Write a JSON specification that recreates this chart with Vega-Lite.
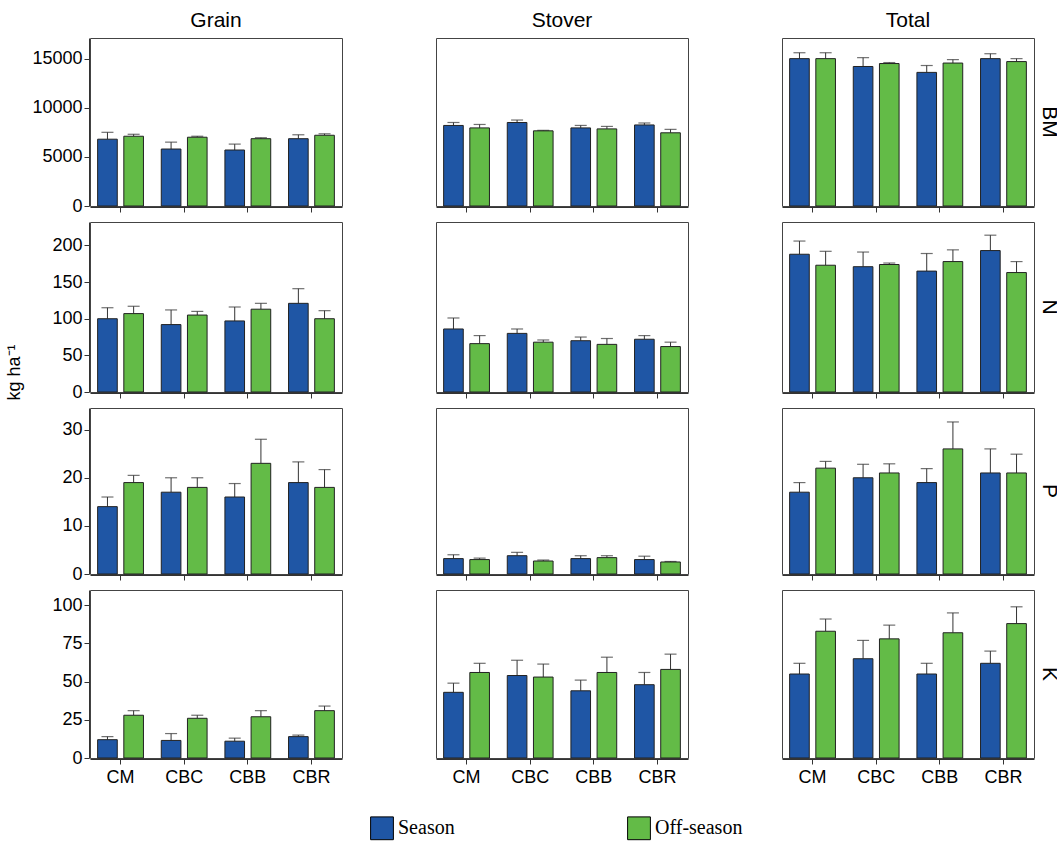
{
  "$schema": "https://vega.github.io/schema/vega-lite/v6.json",
  "background": "white",
  "padding": {"top": 10, "left": 5, "right": 2, "bottom": 5},
  "config": {
    "font": "Liberation Sans",
    "view": {"stroke": "#444"},
    "axis": {"labelFontSize": 18, "labelColor": "black", "tickColor": "#333", "domainColor": "#333", "grid": false, "titleFontSize": 18, "titleFontWeight": "normal", "titleColor": "black"},
    "header": {"labelFontSize": 21, "labelColor": "black"},
    "legend": {"labelFont": "Liberation Serif", "labelFontSize": 20, "symbolType": "square", "symbolSize": 520, "symbolStrokeColor": "black", "symbolStrokeWidth": 1, "orient": "none", "legendX": 280, "legendY": 778, "direction": "horizontal", "columnPadding": 170, "title": null}
  },
  "data": {"values": [
    {"m":"BM","part":"Grain","trt":"CM","s":"Season","v":6800,"u":7500},
    {"m":"BM","part":"Grain","trt":"CM","s":"Off-season","v":7100,"u":7300},
    {"m":"BM","part":"Grain","trt":"CBC","s":"Season","v":5800,"u":6500},
    {"m":"BM","part":"Grain","trt":"CBC","s":"Off-season","v":7000,"u":7100},
    {"m":"BM","part":"Grain","trt":"CBB","s":"Season","v":5700,"u":6300},
    {"m":"BM","part":"Grain","trt":"CBB","s":"Off-season","v":6850,"u":6950},
    {"m":"BM","part":"Grain","trt":"CBR","s":"Season","v":6850,"u":7250},
    {"m":"BM","part":"Grain","trt":"CBR","s":"Off-season","v":7200,"u":7350},
    {"m":"BM","part":"Stover","trt":"CM","s":"Season","v":8200,"u":8500},
    {"m":"BM","part":"Stover","trt":"CM","s":"Off-season","v":7950,"u":8300},
    {"m":"BM","part":"Stover","trt":"CBC","s":"Season","v":8500,"u":8750},
    {"m":"BM","part":"Stover","trt":"CBC","s":"Off-season","v":7650,"u":7700},
    {"m":"BM","part":"Stover","trt":"CBB","s":"Season","v":7950,"u":8200},
    {"m":"BM","part":"Stover","trt":"CBB","s":"Off-season","v":7850,"u":8100},
    {"m":"BM","part":"Stover","trt":"CBR","s":"Season","v":8250,"u":8450},
    {"m":"BM","part":"Stover","trt":"CBR","s":"Off-season","v":7450,"u":7800},
    {"m":"BM","part":"Total","trt":"CM","s":"Season","v":15000,"u":15600},
    {"m":"BM","part":"Total","trt":"CM","s":"Off-season","v":15000,"u":15600},
    {"m":"BM","part":"Total","trt":"CBC","s":"Season","v":14200,"u":15100},
    {"m":"BM","part":"Total","trt":"CBC","s":"Off-season","v":14500,"u":14600},
    {"m":"BM","part":"Total","trt":"CBB","s":"Season","v":13600,"u":14300},
    {"m":"BM","part":"Total","trt":"CBB","s":"Off-season","v":14550,"u":14900},
    {"m":"BM","part":"Total","trt":"CBR","s":"Season","v":15000,"u":15500},
    {"m":"BM","part":"Total","trt":"CBR","s":"Off-season","v":14700,"u":15000},
    {"m":"N","part":"Grain","trt":"CM","s":"Season","v":100,"u":115},
    {"m":"N","part":"Grain","trt":"CM","s":"Off-season","v":107,"u":117},
    {"m":"N","part":"Grain","trt":"CBC","s":"Season","v":92,"u":112},
    {"m":"N","part":"Grain","trt":"CBC","s":"Off-season","v":105,"u":110},
    {"m":"N","part":"Grain","trt":"CBB","s":"Season","v":97,"u":116},
    {"m":"N","part":"Grain","trt":"CBB","s":"Off-season","v":113,"u":121},
    {"m":"N","part":"Grain","trt":"CBR","s":"Season","v":121,"u":141},
    {"m":"N","part":"Grain","trt":"CBR","s":"Off-season","v":100,"u":111},
    {"m":"N","part":"Stover","trt":"CM","s":"Season","v":86,"u":101},
    {"m":"N","part":"Stover","trt":"CM","s":"Off-season","v":66,"u":77},
    {"m":"N","part":"Stover","trt":"CBC","s":"Season","v":80,"u":86},
    {"m":"N","part":"Stover","trt":"CBC","s":"Off-season","v":68,"u":71},
    {"m":"N","part":"Stover","trt":"CBB","s":"Season","v":70,"u":75},
    {"m":"N","part":"Stover","trt":"CBB","s":"Off-season","v":65,"u":73},
    {"m":"N","part":"Stover","trt":"CBR","s":"Season","v":72,"u":77},
    {"m":"N","part":"Stover","trt":"CBR","s":"Off-season","v":62,"u":68},
    {"m":"N","part":"Total","trt":"CM","s":"Season","v":188,"u":206},
    {"m":"N","part":"Total","trt":"CM","s":"Off-season","v":173,"u":192},
    {"m":"N","part":"Total","trt":"CBC","s":"Season","v":171,"u":191},
    {"m":"N","part":"Total","trt":"CBC","s":"Off-season","v":174,"u":176},
    {"m":"N","part":"Total","trt":"CBB","s":"Season","v":165,"u":189},
    {"m":"N","part":"Total","trt":"CBB","s":"Off-season","v":178,"u":194},
    {"m":"N","part":"Total","trt":"CBR","s":"Season","v":193,"u":214},
    {"m":"N","part":"Total","trt":"CBR","s":"Off-season","v":163,"u":178},
    {"m":"P","part":"Grain","trt":"CM","s":"Season","v":14,"u":16},
    {"m":"P","part":"Grain","trt":"CM","s":"Off-season","v":19,"u":20.5},
    {"m":"P","part":"Grain","trt":"CBC","s":"Season","v":17,"u":20},
    {"m":"P","part":"Grain","trt":"CBC","s":"Off-season","v":18,"u":20},
    {"m":"P","part":"Grain","trt":"CBB","s":"Season","v":16,"u":18.8},
    {"m":"P","part":"Grain","trt":"CBB","s":"Off-season","v":23,"u":28},
    {"m":"P","part":"Grain","trt":"CBR","s":"Season","v":19,"u":23.3},
    {"m":"P","part":"Grain","trt":"CBR","s":"Off-season","v":18,"u":21.7},
    {"m":"P","part":"Stover","trt":"CM","s":"Season","v":3.2,"u":4},
    {"m":"P","part":"Stover","trt":"CM","s":"Off-season","v":3,"u":3.3},
    {"m":"P","part":"Stover","trt":"CBC","s":"Season","v":3.8,"u":4.5},
    {"m":"P","part":"Stover","trt":"CBC","s":"Off-season","v":2.7,"u":2.9},
    {"m":"P","part":"Stover","trt":"CBB","s":"Season","v":3.2,"u":3.8},
    {"m":"P","part":"Stover","trt":"CBB","s":"Off-season","v":3.4,"u":3.8},
    {"m":"P","part":"Stover","trt":"CBR","s":"Season","v":3,"u":3.7},
    {"m":"P","part":"Stover","trt":"CBR","s":"Off-season","v":2.5,"u":2.6},
    {"m":"P","part":"Total","trt":"CM","s":"Season","v":17,"u":19},
    {"m":"P","part":"Total","trt":"CM","s":"Off-season","v":22,"u":23.4},
    {"m":"P","part":"Total","trt":"CBC","s":"Season","v":20,"u":22.8},
    {"m":"P","part":"Total","trt":"CBC","s":"Off-season","v":21,"u":22.9},
    {"m":"P","part":"Total","trt":"CBB","s":"Season","v":19,"u":21.9},
    {"m":"P","part":"Total","trt":"CBB","s":"Off-season","v":26,"u":31.6},
    {"m":"P","part":"Total","trt":"CBR","s":"Season","v":21,"u":26},
    {"m":"P","part":"Total","trt":"CBR","s":"Off-season","v":21,"u":24.9},
    {"m":"K","part":"Grain","trt":"CM","s":"Season","v":12,"u":14},
    {"m":"K","part":"Grain","trt":"CM","s":"Off-season","v":28,"u":31},
    {"m":"K","part":"Grain","trt":"CBC","s":"Season","v":11.5,"u":16},
    {"m":"K","part":"Grain","trt":"CBC","s":"Off-season","v":26,"u":28},
    {"m":"K","part":"Grain","trt":"CBB","s":"Season","v":11,"u":13},
    {"m":"K","part":"Grain","trt":"CBB","s":"Off-season","v":27,"u":31},
    {"m":"K","part":"Grain","trt":"CBR","s":"Season","v":14,"u":15},
    {"m":"K","part":"Grain","trt":"CBR","s":"Off-season","v":31,"u":34},
    {"m":"K","part":"Stover","trt":"CM","s":"Season","v":43,"u":49},
    {"m":"K","part":"Stover","trt":"CM","s":"Off-season","v":56,"u":62},
    {"m":"K","part":"Stover","trt":"CBC","s":"Season","v":54,"u":64},
    {"m":"K","part":"Stover","trt":"CBC","s":"Off-season","v":53,"u":61.5},
    {"m":"K","part":"Stover","trt":"CBB","s":"Season","v":44,"u":51},
    {"m":"K","part":"Stover","trt":"CBB","s":"Off-season","v":56,"u":66},
    {"m":"K","part":"Stover","trt":"CBR","s":"Season","v":48,"u":56},
    {"m":"K","part":"Stover","trt":"CBR","s":"Off-season","v":58,"u":68},
    {"m":"K","part":"Total","trt":"CM","s":"Season","v":55,"u":62},
    {"m":"K","part":"Total","trt":"CM","s":"Off-season","v":83,"u":91},
    {"m":"K","part":"Total","trt":"CBC","s":"Season","v":65,"u":77},
    {"m":"K","part":"Total","trt":"CBC","s":"Off-season","v":78,"u":87},
    {"m":"K","part":"Total","trt":"CBB","s":"Season","v":55,"u":62},
    {"m":"K","part":"Total","trt":"CBB","s":"Off-season","v":82,"u":95},
    {"m":"K","part":"Total","trt":"CBR","s":"Season","v":62,"u":70},
    {"m":"K","part":"Total","trt":"CBR","s":"Off-season","v":88,"u":99}
  ]},
  "spacing": 6,
  "vconcat": [
    {
      "transform": [{"filter": "datum.m == 'BM'"}],
      "facet": {
        "row": {"field": "m", "type": "nominal", "header": {"title": null, "labelOrient": "right", "labelAngle": 90, "labelPadding": 4}},
        "column": {"field": "part", "type": "nominal", "sort": ["Grain", "Stover", "Total"], "header": {"title": null, "labelOrient": "top", "labelPadding": 6}}
      },
      "spacing": {"column": 92},
      "spec": {
        "width": 252, "height": 168,
        "encoding": {
          "x": {"field": "trt", "type": "nominal", "sort": ["CM", "CBC", "CBB", "CBR"], "scale": {"paddingInner": 0.28, "paddingOuter": 0.12}, "axis": {"title": null, "labels": false, "tickSize": 5}},
          "xOffset": {"field": "s", "type": "nominal", "sort": ["Season", "Off-season"], "scale": {"paddingInner": 0.25}}
        },
        "layer": [
          {"mark": {"type": "rule", "color": "#333"}, "encoding": {"y": {"field": "v", "type": "quantitative"}, "y2": {"field": "u"}}},
          {"mark": {"type": "tick", "color": "#333", "size": 12, "thickness": 1.2, "orient": "horizontal"}, "encoding": {"y": {"field": "u", "type": "quantitative"}}},
          {"mark": {"type": "bar", "stroke": "#222", "strokeWidth": 1}, "encoding": {
            "y": {"field": "v", "type": "quantitative", "scale": {"domain": [0, 17100], "nice": false}, "axis": {"title": null, "format": "d", "values": [0, 5000, 10000, 15000], "tickSize": 5}},
            "color": {"field": "s", "type": "nominal", "sort": ["Season", "Off-season"], "scale": {"domain": ["Season", "Off-season"], "range": ["#1f56a5", "#63bb47"]}}
          }}
        ]
      }
    },
    {
      "transform": [{"filter": "datum.m == 'N'"}],
      "facet": {
        "row": {"field": "m", "type": "nominal", "header": {"title": null, "labelOrient": "right", "labelAngle": 90, "labelPadding": 4}},
        "column": {"field": "part", "type": "nominal", "sort": ["Grain", "Stover", "Total"], "header": {"title": null, "labels": false}}
      },
      "spacing": {"column": 92},
      "spec": {
        "width": 252, "height": 170,
        "encoding": {
          "x": {"field": "trt", "type": "nominal", "sort": ["CM", "CBC", "CBB", "CBR"], "scale": {"paddingInner": 0.28, "paddingOuter": 0.12}, "axis": {"title": null, "labels": false, "tickSize": 5}},
          "xOffset": {"field": "s", "type": "nominal", "sort": ["Season", "Off-season"], "scale": {"paddingInner": 0.25}}
        },
        "layer": [
          {"mark": {"type": "rule", "color": "#333"}, "encoding": {"y": {"field": "v", "type": "quantitative"}, "y2": {"field": "u"}}},
          {"mark": {"type": "tick", "color": "#333", "size": 12, "thickness": 1.2, "orient": "horizontal"}, "encoding": {"y": {"field": "u", "type": "quantitative"}}},
          {"mark": {"type": "bar", "stroke": "#222", "strokeWidth": 1}, "encoding": {
            "y": {"field": "v", "type": "quantitative", "scale": {"domain": [0, 232], "nice": false}, "axis": {"title": "kg ha⁻¹", "titleY": 150, "titlePadding": 28, "values": [0, 50, 100, 150, 200], "tickSize": 5}},
            "color": {"field": "s", "type": "nominal", "sort": ["Season", "Off-season"], "scale": {"domain": ["Season", "Off-season"], "range": ["#1f56a5", "#63bb47"]}}
          }}
        ]
      }
    },
    {
      "transform": [{"filter": "datum.m == 'P'"}],
      "facet": {
        "row": {"field": "m", "type": "nominal", "header": {"title": null, "labelOrient": "right", "labelAngle": 90, "labelPadding": 4}},
        "column": {"field": "part", "type": "nominal", "sort": ["Grain", "Stover", "Total"], "header": {"title": null, "labels": false}}
      },
      "spacing": {"column": 92},
      "spec": {
        "width": 252, "height": 166,
        "encoding": {
          "x": {"field": "trt", "type": "nominal", "sort": ["CM", "CBC", "CBB", "CBR"], "scale": {"paddingInner": 0.28, "paddingOuter": 0.12}, "axis": {"title": null, "labels": false, "tickSize": 5}},
          "xOffset": {"field": "s", "type": "nominal", "sort": ["Season", "Off-season"], "scale": {"paddingInner": 0.25}}
        },
        "layer": [
          {"mark": {"type": "rule", "color": "#333"}, "encoding": {"y": {"field": "v", "type": "quantitative"}, "y2": {"field": "u"}}},
          {"mark": {"type": "tick", "color": "#333", "size": 12, "thickness": 1.2, "orient": "horizontal"}, "encoding": {"y": {"field": "u", "type": "quantitative"}}},
          {"mark": {"type": "bar", "stroke": "#222", "strokeWidth": 1}, "encoding": {
            "y": {"field": "v", "type": "quantitative", "scale": {"domain": [0, 34.5], "nice": false}, "axis": {"title": null, "values": [0, 10, 20, 30], "tickSize": 5}},
            "color": {"field": "s", "type": "nominal", "sort": ["Season", "Off-season"], "scale": {"domain": ["Season", "Off-season"], "range": ["#1f56a5", "#63bb47"]}}
          }}
        ]
      }
    },
    {
      "transform": [{"filter": "datum.m == 'K'"}],
      "facet": {
        "row": {"field": "m", "type": "nominal", "header": {"title": null, "labelOrient": "right", "labelAngle": 90, "labelPadding": 4}},
        "column": {"field": "part", "type": "nominal", "sort": ["Grain", "Stover", "Total"], "header": {"title": null, "labels": false}}
      },
      "spacing": {"column": 92},
      "spec": {
        "width": 252, "height": 168,
        "encoding": {
          "x": {"field": "trt", "type": "nominal", "sort": ["CM", "CBC", "CBB", "CBR"], "scale": {"paddingInner": 0.28, "paddingOuter": 0.12}, "axis": {"title": null, "tickSize": 5, "labelPadding": 4, "labelAngle": 0}},
          "xOffset": {"field": "s", "type": "nominal", "sort": ["Season", "Off-season"], "scale": {"paddingInner": 0.25}}
        },
        "layer": [
          {"mark": {"type": "rule", "color": "#333"}, "encoding": {"y": {"field": "v", "type": "quantitative"}, "y2": {"field": "u"}}},
          {"mark": {"type": "tick", "color": "#333", "size": 12, "thickness": 1.2, "orient": "horizontal"}, "encoding": {"y": {"field": "u", "type": "quantitative"}}},
          {"mark": {"type": "bar", "stroke": "#222", "strokeWidth": 1}, "encoding": {
            "y": {"field": "v", "type": "quantitative", "scale": {"domain": [0, 110], "nice": false}, "axis": {"title": null, "values": [0, 25, 50, 75, 100], "tickSize": 5}},
            "color": {"field": "s", "type": "nominal", "sort": ["Season", "Off-season"], "scale": {"domain": ["Season", "Off-season"], "range": ["#1f56a5", "#63bb47"]}}
          }}
        ]
      }
    }
  ]
}
